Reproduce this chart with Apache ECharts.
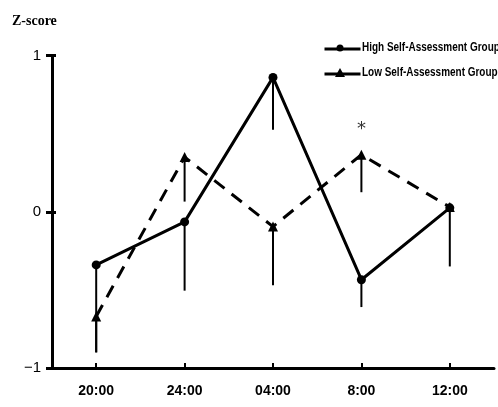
<!DOCTYPE html>
<html>
<head>
<meta charset="utf-8">
<style>
html,body{margin:0;padding:0;background:#fff;}
#chart{width:498px;height:407px;}
</style>
<script src="https://cdn.jsdelivr.net/npm/echarts@6/dist/echarts.min.js"></script>
</head>
<body>
<div id="chart"></div>
<script>
var categories = ['20:00', '24:00', '04:00', '8:00', '12:00'];
var highValues = [-0.34, -0.065, 0.86, -0.435, 0.025];
var highErrEnd = [-0.90, -0.505, 0.525, -0.61, -0.35];
var lowValues = [-0.67, 0.35, -0.095, 0.365, 0.03];
var lowErrEnd = [-0.90, 0.065, -0.47, 0.125, 0.03];
var yTicks = [-1, 0, 1];
var highName = 'High Self-Assessment Group';
var lowName = 'Low Self-Assessment Group';
var starIndex = 3;

var chart = echarts.init(document.getElementById('chart'));

function errSeries(vals, ends) {
  return {
    type: 'custom',
    silent: true,
    z: 1,
    data: vals.map(function (v, i) { return [i, v, ends[i]]; }),
    renderItem: function (params, api) {
      var p1 = api.coord([api.value(0), api.value(1)]);
      var p2 = api.coord([api.value(0), api.value(2)]);
      return {
        type: 'line',
        shape: { x1: p1[0], y1: p1[1], x2: p2[0], y2: p2[1] },
        style: { stroke: '#000', lineWidth: 2 }
      };
    }
  };
}

var axisFont = "'Liberation Sans', Arial, sans-serif";

function legendRow(y, name, symbol) {
  return [
    { type: 'line', left: 322, top: y - 1.5, shape: { x1: 0, y1: 0, x2: 36, y2: 0 }, style: { stroke: '#000', lineWidth: 3 } },
    symbol === 'circle'
      ? { type: 'circle', shape: { cx: 340, cy: y, r: 3.5 }, style: { fill: '#000' } }
      : { type: 'polygon', shape: { points: [[340, y - 5], [345, y + 4], [335, y + 4]] }, style: { fill: '#000' } },
    { type: 'text', x: 362, y: y, scaleX: 0.83, originX: 0, originY: 0,
      style: { text: name, font: "bold 12px 'Liberation Sans', Arial, sans-serif", fill: '#000', textVerticalAlign: 'middle', verticalAlign: 'middle' } }
  ];
}

var option = {
  animation: false,
  backgroundColor: '#fff',
  grid: { left: 52, right: 4, top: 55.5, bottom: 39 },
  title: {
    text: 'Z-score',
    left: 7, top: 9,
    textStyle: { fontFamily: "'Liberation Serif', serif", fontSize: 14, fontWeight: 'bold', color: '#000' }
  },
  graphic: legendRow(48, highName, 'circle').concat(legendRow(73, lowName, 'triangle')),
  xAxis: {
    type: 'category',
    data: categories,
    boundaryGap: true,
    axisLine: { onZero: false, lineStyle: { color: '#000', width: 3 } },
    axisTick: { show: true, inside: true, alignWithLabel: true, length: 5, lineStyle: { color: '#000', width: 2 } },
    axisLabel: { color: '#000', fontFamily: axisFont, fontWeight: 'bold', fontSize: 14, margin: 16 },
    splitLine: { show: false }
  },
  yAxis: [{
    type: 'value',
    min: -1, max: 1, interval: 1,
    axisLine: { show: true, lineStyle: { color: '#000', width: 3 } },
    axisTick: { show: true, length: 6, lineStyle: { color: '#000', width: 3 } },
    axisLabel: {
      color: '#000', fontFamily: "'Liberation Sans', Arial, sans-serif", fontSize: 15, margin: 11,
      formatter: function (v) { return yTicks.indexOf(v) >= 0 ? String(v).replace('-', '\u2212') : ''; }
    },
    splitLine: { show: false }
  }, {
    type: 'value',
    position: 'left',
    min: -1, max: 1, interval: 1,
    axisLine: { show: false },
    axisTick: { show: true, inside: true, length: 4, lineStyle: { color: '#000', width: 3 } },
    axisLabel: { show: false },
    splitLine: { show: false }
  }],
  series: [
    errSeries(highValues, highErrEnd),
    errSeries(lowValues, lowErrEnd),
    {
      name: highName,
      type: 'line',
      data: highValues,
      symbol: 'circle',
      symbolSize: 9,
      z: 3,
      itemStyle: { color: '#000' },
      lineStyle: { color: '#000', width: 3 }
    },
    {
      name: lowName,
      type: 'line',
      data: lowValues,
      symbol: 'triangle',
      symbolSize: 10,
      z: 3,
      itemStyle: { color: '#000' },
      lineStyle: { color: '#000', width: 3, type: [13, 9] },
      markPoint: {
        symbol: 'rect', symbolSize: 1,
        itemStyle: { color: 'rgba(0,0,0,0)' },
        label: { show: true, formatter: '*', color: '#333', fontSize: 18, fontFamily: "'DejaVu Sans', sans-serif", offset: [0, 6] },
        data: [{ coord: [starIndex, lowValues[starIndex] + 0.2] }]
      }
    }
  ]
};
chart.setOption(option);
</script>
</body>
</html>
